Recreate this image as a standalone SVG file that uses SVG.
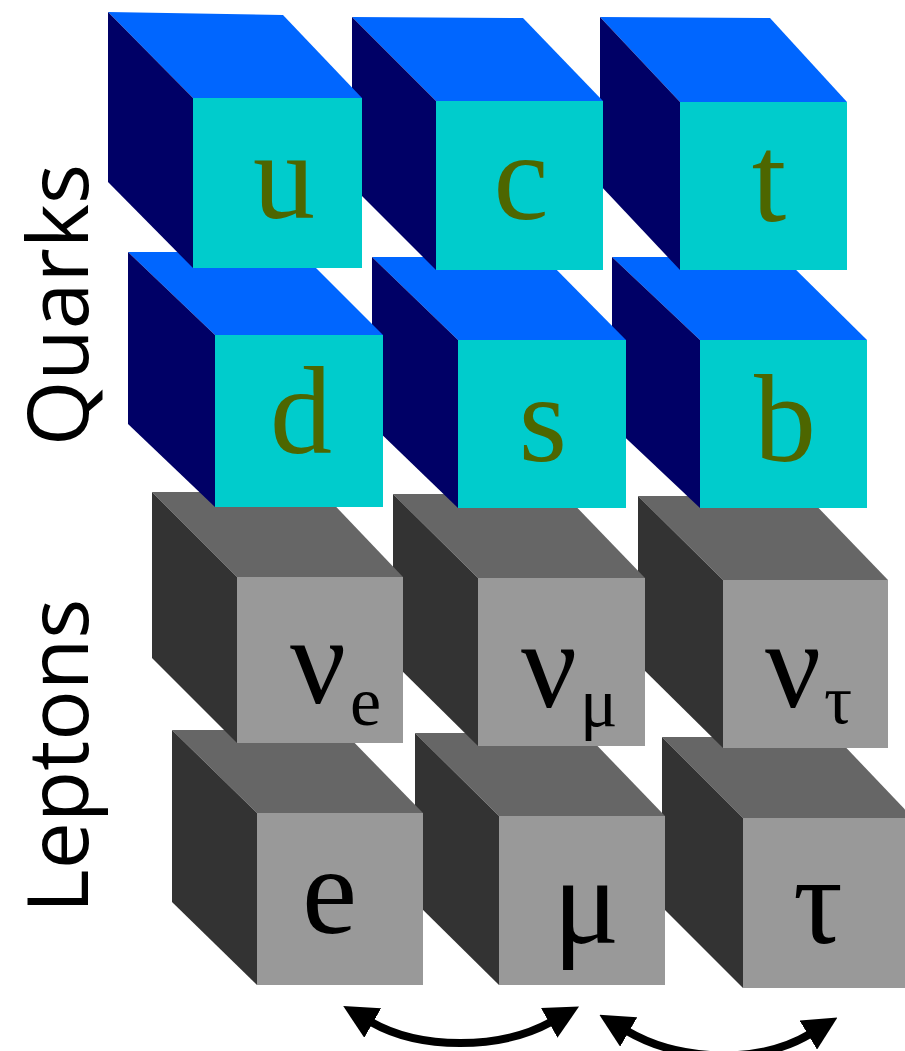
<svg xmlns="http://www.w3.org/2000/svg" width="905" height="1051" viewBox="0 0 905 1051">
  <style>
    .qt { fill: #0066ff; }
    .ql { fill: #000066; }
    .qf { fill: #00cccc; }
    .lt { fill: #666666; }
    .ll { fill: #333333; }
    .lf { fill: #999999; }
    .qtxt { font-family: "Liberation Serif", "Times New Roman", serif; font-size: 124px; fill: #4d6600; text-anchor: middle; }
    .ltxt { font-family: "Liberation Serif", "Times New Roman", serif; font-size: 124px; fill: #000000; }
    .sub { font-family: "Liberation Serif", "Times New Roman", serif; font-size: 70px; fill: #000000; }
    .side { font-family: "Open Sans", "Noto Sans", "DejaVu Sans", sans-serif; font-size: 84px; fill: #000000; text-anchor: middle; }
    .arc { fill: none; stroke: #000000; stroke-width: 8; }
  </style>
  <defs>
    <marker id="head" markerUnits="userSpaceOnUse" viewBox="0 0 34 34" markerWidth="34" markerHeight="34" refX="2" refY="17" orient="auto-start-reverse">
      <path d="M0,0 L34,17 L0,34 Z" fill="#000000"/>
    </marker>
  </defs>

  <rect width="905" height="1051" fill="#ffffff"/>

  <!-- side labels -->
  <g id="label-quarks">
    <text class="side" transform="translate(88,305) rotate(-90)">Quarks</text>
  </g>
  <g id="label-leptons">
    <text class="side" transform="translate(88,756) rotate(-90)">Leptons</text>
  </g>

  <!-- lepton row 2 (drawn first, right to left) -->
  <g id="cube-tau">
    <polygon class="lt" points="662,737 836,737 913,818 743,818"/>
    <polygon class="ll" points="662,737 743,818 743,988 662,907"/>
    <rect class="lf" x="743" y="818" width="170" height="170"/>
    <text class="ltxt" x="793" y="943">τ</text>
  </g>
  <g id="cube-mu">
    <polygon class="lt" points="415,733 585,733 665,816 499,816"/>
    <polygon class="ll" points="415,733 499,816 499,985 415,902"/>
    <rect class="lf" x="499" y="816" width="166" height="169"/>
    <text class="ltxt" x="553" y="943">μ</text>
  </g>
  <g id="cube-e">
    <polygon class="lt" points="172,730 342,730 423,813 257,813"/>
    <polygon class="ll" points="172,730 257,813 257,985 172,902"/>
    <rect class="lf" x="257" y="813" width="166" height="172"/>
    <text class="ltxt" x="302" y="933">e</text>
  </g>

  <!-- lepton row 1 (neutrinos) -->
  <g id="cube-nu-tau">
    <polygon class="lt" points="638,496 807,496 888,580 723,580"/>
    <polygon class="ll" points="638,496 723,580 723,748 638,664"/>
    <rect class="lf" x="723" y="580" width="165" height="168"/>
    <text class="ltxt" x="765" y="707">ν</text>
    <text class="sub" x="824" y="723">τ</text>
  </g>
  <g id="cube-nu-mu">
    <polygon class="lt" points="393,494 564,494 645,578 478,578"/>
    <polygon class="ll" points="393,494 478,578 478,746 393,662"/>
    <rect class="lf" x="478" y="578" width="167" height="168"/>
    <text class="ltxt" x="521" y="707">ν</text>
    <text class="sub" x="580" y="726">μ</text>
  </g>
  <g id="cube-nu-e">
    <polygon class="lt" points="152,492 322,492 403,577 237,577"/>
    <polygon class="ll" points="152,492 237,577 237,743 152,658"/>
    <rect class="lf" x="237" y="577" width="166" height="166"/>
    <text class="ltxt" x="290" y="703">ν</text>
    <text class="sub" x="350" y="725">e</text>
  </g>

  <!-- quark row 2 -->
  <g id="cube-b">
    <polygon class="qt" points="612,257 783,257 867,340 700,340"/>
    <polygon class="ql" points="612,257 700,340 700,508 612,425"/>
    <rect class="qf" x="700" y="340" width="167" height="168"/>
    <text class="qtxt" x="785" y="461">b</text>
  </g>
  <g id="cube-s">
    <polygon class="qt" points="372,257 544,257 626,340 458,340"/>
    <polygon class="ql" points="372,257 458,340 458,508 372,425"/>
    <rect class="qf" x="458" y="340" width="168" height="168"/>
    <text class="qtxt" x="543" y="461">s</text>
  </g>
  <g id="cube-d">
    <polygon class="qt" points="128,252 300,252 383,335 215,335"/>
    <polygon class="ql" points="128,252 215,335 215,507 128,424"/>
    <rect class="qf" x="215" y="335" width="168" height="172"/>
    <text class="qtxt" x="301" y="453">d</text>
  </g>

  <!-- quark row 1 -->
  <g id="cube-t">
    <polygon class="qt" points="600,17 770,18 847,102 680,102"/>
    <polygon class="ql" points="600,17 680,102 680,270 600,185"/>
    <rect class="qf" x="680" y="102" width="167" height="168"/>
    <text class="qtxt" x="769" y="221">t</text>
  </g>
  <g id="cube-c">
    <polygon class="qt" points="352,17 523,18 603,101 436,101"/>
    <polygon class="ql" points="352,17 436,101 436,270 352,186"/>
    <rect class="qf" x="436" y="101" width="167" height="169"/>
    <text class="qtxt" x="521" y="219">c</text>
  </g>
  <g id="cube-u">
    <polygon class="qt" points="108,12 283,15 362,98 193,98"/>
    <polygon class="ql" points="108,12 193,98 193,268 108,182"/>
    <rect class="qf" x="193" y="98" width="169" height="170"/>
    <text class="qtxt" x="284" y="218">u</text>
  </g>

  <!-- generation links -->
  <g id="connectors">
    <path class="arc" d="M371,1022 C420,1050 500,1050 551,1022" marker-start="url(#head)" marker-end="url(#head)"/>
    <path class="arc" d="M627,1031 C680,1062 760,1064 810,1034" marker-start="url(#head)" marker-end="url(#head)"/>
  </g>
</svg>
